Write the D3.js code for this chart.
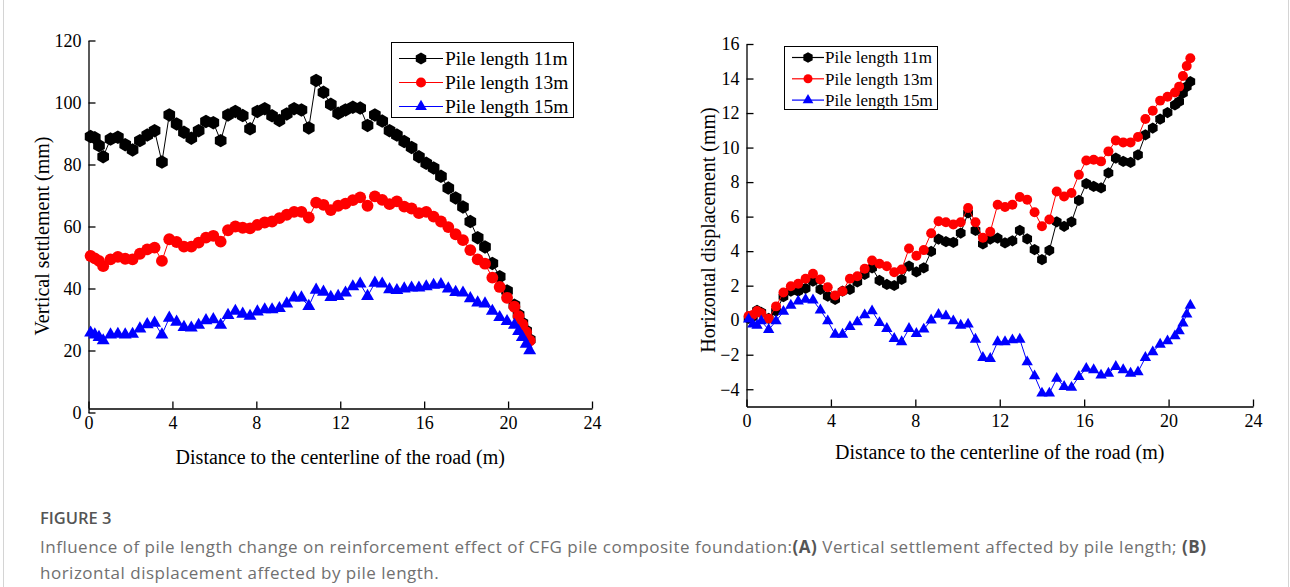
<!DOCTYPE html>
<html>
<head>
<meta charset="utf-8">
<script src="https://cdn.jsdelivr.net/npm/d3@7"></script>
<style>
  html, body { margin: 0; padding: 0; background: #fff; }
  svg { display: block; }
</style>
</head>
<body>
<div id="chart"></div>
<script>
// distance to the road centerline (m), shared by every series
const distance = [0.1, 0.3, 0.5, 0.7, 1.05, 1.4, 1.75, 2.1, 2.45, 2.8, 3.15, 3.5, 3.85, 4.2, 4.55, 4.9,
  5.25, 5.6, 5.95, 6.3, 6.65, 7.0, 7.35, 7.7, 8.05, 8.4, 8.75, 9.1, 9.45, 9.8, 10.15, 10.5, 10.85,
  11.2, 11.55, 11.9, 12.25, 12.6, 12.95, 13.3, 13.65, 14.0, 14.35, 14.7, 15.05, 15.4, 15.75, 16.1,
  16.45, 16.8, 17.15, 17.5, 17.85, 18.2, 18.55, 18.9, 19.25, 19.6, 19.95, 20.3, 20.5, 20.68, 20.86, 21.03];

// (A) vertical settlement (mm)
const settle11 = [89.0, 88.6, 86.1, 82.5, 88.2, 88.8, 86.4, 84.7, 87.7, 89.5, 90.9, 80.8, 96.0, 93.1, 90.4, 88.5,
  90.9, 93.9, 93.5, 87.7, 96.0, 97.1, 95.8, 91.5, 97.1, 98.0, 95.7, 94.2, 96.3, 98.0, 97.6, 91.8, 107.1,
  103.3, 99.4, 96.5, 97.6, 98.5, 98.2, 92.6, 96.0, 94.0, 90.9, 89.5, 87.4, 85.5, 82.5, 80.4, 78.9, 76.2,
  72.4, 69.2, 66.3, 61.6, 56.4, 53.4, 48.1, 43.8, 39.2, 34.6, 31.5, 28.8, 26.3, 23.5];
const settle13 = [50.5, 49.7, 48.9, 47.2, 49.4, 50.2, 49.6, 49.4, 51.2, 52.6, 53.2, 48.9, 55.9, 55.0, 53.5, 53.5,
  54.8, 56.4, 57.0, 55.1, 58.8, 60.0, 59.6, 59.4, 60.5, 61.3, 61.6, 62.7, 63.8, 64.7, 64.7, 62.9, 67.7,
  67.0, 65.3, 66.7, 67.4, 68.5, 69.4, 66.7, 69.7, 68.6, 67.2, 68.1, 66.4, 65.8, 64.3, 64.7, 63.2, 61.6,
  59.8, 57.5, 55.6, 52.4, 49.4, 48.0, 43.5, 40.5, 37.0, 34.1, 31.1, 28.4, 25.9, 23.2];
const settle15 = [25.7, 25.1, 24.3, 23.2, 25.1, 25.3, 25.1, 25.3, 27.0, 28.4, 28.9, 25.1, 30.5, 29.2, 27.5, 27.3,
  28.2, 29.7, 30.0, 28.2, 31.4, 32.7, 31.8, 31.1, 32.5, 33.2, 33.2, 33.6, 35.1, 37.0, 37.0, 34.3, 39.5,
  38.9, 37.2, 37.5, 38.6, 40.6, 41.5, 37.5, 41.8, 41.5, 39.7, 39.4, 39.9, 40.2, 40.2, 40.6, 41.1, 41.3,
  39.9, 38.8, 38.6, 36.8, 35.4, 35.1, 32.7, 30.7, 29.4, 28.2, 26.2, 24.3, 22.1, 20.0];

// (B) horizontal displacement (mm)
const disp11 = [0.1, 0.2, 0.57, 0.45, 0.1, 0.53, 1.36, 1.68, 1.68, 1.84, 2.26, 1.78, 1.39, 1.2, 1.68, 1.78,
  2.22, 2.65, 3.03, 2.3, 2.07, 2.01, 2.36, 3.13, 2.8, 3.03, 3.98, 4.7, 4.55, 4.51, 5.05, 6.21, 5.2,
  4.42, 4.7, 4.75, 4.48, 4.6, 5.2, 4.71, 4.09, 3.51, 4.05, 5.7, 5.44, 5.7, 6.94, 7.91, 7.75, 7.66,
  8.53, 9.39, 9.2, 9.14, 9.58, 10.74, 11.13, 11.65, 12.03, 12.47, 12.66, 13.15, 13.53, 13.82];
const disp13 = [0.24, 0.3, 0.53, 0.4, 0.09, 0.8, 1.6, 1.97, 2.11, 2.4, 2.69, 2.36, 1.91, 1.43, 1.68, 2.4,
  2.55, 2.98, 3.46, 3.27, 3.13, 2.78, 2.94, 4.15, 3.73, 4.06, 5.04, 5.73, 5.67, 5.54, 5.67, 6.5, 5.67,
  4.77, 5.12, 6.69, 6.56, 6.69, 7.14, 6.98, 6.25, 5.44, 5.83, 7.46, 7.17, 7.37, 8.43, 9.25, 9.29, 9.2,
  9.78, 10.41, 10.3, 10.3, 10.61, 11.65, 12.13, 12.72, 12.95, 13.19, 13.53, 14.15, 14.73, 15.17];
const disp15 = [0.05, -0.24, -0.3, -0.05, -0.55, -0.05, 0.5, 0.86, 1.1, 1.2, 1.16, 0.58, -0.05, -0.82, -0.82, -0.38,
  -0.11, 0.3, 0.53, -0.15, -0.49, -1.07, -1.26, -0.49, -0.78, -0.53, 0.0, 0.33, 0.24, -0.05, -0.3, -0.24, -1.11,
  -2.17, -2.23, -1.26, -1.26, -1.15, -1.11, -2.42, -3.23, -4.23, -4.23, -3.38, -3.85, -3.9, -3.27, -2.8, -2.88, -3.19,
  -3.08, -2.69, -2.88, -3.08, -3.0, -2.17, -1.84, -1.4, -1.21, -0.92, -0.63, -0.18, 0.34, 0.86];

const seriesNames = ['Pile length 11m', 'Pile length 13m', 'Pile length 15m'];
const seriesColors = ['#000000', '#ff0000', '#0000ff'];
const xTicks = [0, 4, 8, 12, 16, 20, 24];
const settleTicks = [0, 20, 40, 60, 80, 100, 120];
const dispTicks = [-4, -2, 0, 2, 4, 6, 8, 10, 12, 14, 16];

const serif = '"Liberation Serif", "Times New Roman", serif';

// pointy-top hexagon as a d3 symbol type
const symbolHexagon = {
  draw(context, size) {
    const r = Math.sqrt(2 * size / (3 * Math.sqrt(3)));
    for (let i = 0; i < 6; i++) {
      const a = Math.PI / 3 * i - Math.PI / 2;
      const px = r * Math.cos(a), py = r * Math.sin(a);
      if (i === 0) context.moveTo(px, py); else context.lineTo(px, py);
    }
    context.closePath();
  }
};
const markerTypes = [symbolHexagon, d3.symbolCircle, d3.symbolTriangle];

const svg = d3.select('#chart').append('svg')
  .attr('width', 1290)
  .attr('height', 587);

svg.append('rect').attr('width', 1290).attr('height', 587).attr('fill', '#fff');

// frame of the figure box
svg.append('line').attr('x1', 3.5).attr('x2', 3.5).attr('y1', 0).attr('y2', 587)
  .attr('stroke', '#d4d4d4');
svg.append('line').attr('x1', 1288.5).attr('x2', 1288.5).attr('y1', 0).attr('y2', 587)
  .attr('stroke', '#d4d4d4');

const panels = [
  {
    series: [settle11, settle13, settle15],
    yDomain: [0, 120], yTicks: settleTicks,
    left: 88.5, right: 592, top: 40.5, bottom: 412.5, xShift: -4,
    yTitle: 'Vertical settlement (mm)', yTitleX: 42, yTitleY: 236,
    xTitleY: 464,
    markerSize: [118, 110, 72],
    legend: { x: 391.5, y: 42.5, w: 182, h: 75, row0: 16, step: 24, font: 19.5,
      line0: 399, line1: 443, textX: 445, marker: [95, 80, 60] }
  },
  {
    series: [disp11, disp13, disp15],
    yDomain: [-5, 16], yTicks: dispTicks,
    left: 746.5, right: 1253, top: 44, bottom: 406.5, xShift: 0,
    yTitle: 'Horizontal displacement (mm)', yTitleX: 708, yTitleY: 230,
    xTitleY: 459,
    markerSize: [82, 78, 56],
    legend: { x: 784.5, y: 46.5, w: 153, h: 63, row0: 11, step: 21.3, font: 17,
      line0: 792, line1: 824, textX: 825, marker: [75, 64, 50] }
  }
];

function styleAxis(sel) {
  sel.attr('font-family', serif).attr('font-size', 18);
  sel.selectAll('path.domain').attr('stroke', '#000').attr('stroke-width', 1.3);
  sel.selectAll('.tick line').attr('stroke', '#000').attr('stroke-width', 1.3);
  sel.selectAll('.tick text').attr('fill', '#000');
}

function drawPanel(p) {
  const x = d3.scaleLinear().domain([0, 24]).range([p.left, p.right]);
  const y = d3.scaleLinear().domain(p.yDomain).range([p.bottom, p.top]);
  const g = svg.append('g');

  g.append('g')
    .attr('transform', `translate(${p.left},0)`)
    .call(d3.axisLeft(y).tickValues(p.yTicks).tickSize(-7).tickSizeOuter(0).tickPadding(7))
    .call(styleAxis);

  g.append('g')
    .attr('transform', `translate(0,${p.bottom + p.xShift})`)
    .call(d3.axisBottom(x).tickValues(xTicks).tickSize(-7).tickSizeOuter(0).tickPadding(8))
    .call(styleAxis);

  // series: line then markers
  p.series.forEach((vals, i) => {
    const pts = distance.map((d, j) => [d, vals[j]]);
    g.append('path')
      .datum(pts)
      .attr('fill', 'none')
      .attr('stroke', seriesColors[i])
      .attr('stroke-width', 1)
      .attr('d', d3.line().x(d => x(d[0])).y(d => y(d[1])));
    g.append('g')
      .selectAll('path')
      .data(pts)
      .join('path')
      .attr('transform', d => `translate(${x(d[0])},${y(d[1])})`)
      .attr('fill', seriesColors[i])
      .attr('d', d3.symbol(markerTypes[i], p.markerSize[i]));
  });

  // axis titles
  g.append('text')
    .attr('x', (p.left + p.right) / 2)
    .attr('y', p.xTitleY)
    .attr('text-anchor', 'middle')
    .attr('font-family', serif)
    .attr('font-size', 20)
    .text('Distance to the centerline of the road (m)');

  g.append('text')
    .attr('transform', `translate(${p.yTitleX},${p.yTitleY}) rotate(-90)`)
    .attr('text-anchor', 'middle')
    .attr('dominant-baseline', 'central')
    .attr('font-family', serif)
    .attr('font-size', 20)
    .text(p.yTitle);

  // legend
  const L = p.legend;
  const lg = g.append('g');
  lg.append('rect')
    .attr('x', L.x).attr('y', L.y).attr('width', L.w).attr('height', L.h)
    .attr('fill', '#fff').attr('stroke', '#000').attr('stroke-width', 1);
  seriesNames.forEach((name, i) => {
    const cy = L.y + L.row0 + i * L.step;
    lg.append('line')
      .attr('x1', L.line0).attr('x2', L.line1).attr('y1', cy).attr('y2', cy)
      .attr('stroke', seriesColors[i]).attr('stroke-width', 1.2);
    lg.append('path')
      .attr('transform', `translate(${(L.line0 + L.line1) / 2},${cy})`)
      .attr('fill', seriesColors[i])
      .attr('d', d3.symbol(markerTypes[i], L.marker[i]));
    lg.append('text')
      .attr('x', L.textX).attr('y', cy)
      .attr('dy', '0.35em')
      .attr('font-family', serif)
      .attr('font-size', L.font)
      .text(name);
  });
}

panels.forEach(drawPanel);

// caption
const sans = '"Open Sans", "Noto Sans", sans-serif';
svg.append('text')
  .attr('x', 40).attr('y', 524)
  .attr('font-family', sans).attr('font-size', 16.5).attr('font-weight', 600)
  .attr('fill', '#555')
  .text('FIGURE 3');

const cap1 = svg.append('text')
  .attr('x', 40).attr('y', 553)
  .attr('font-family', sans).attr('font-size', 17)
  .attr('letter-spacing', 0.5)
  .attr('fill', '#707070');
cap1.append('tspan').text('Influence of pile length change on reinforcement effect of CFG pile composite foundation:');
cap1.append('tspan').attr('font-weight', 700).attr('fill', '#555').text('(A)');
cap1.append('tspan').text(' Vertical settlement affected by pile length; ');
cap1.append('tspan').attr('font-weight', 700).attr('fill', '#555').text('(B)');

svg.append('text')
  .attr('x', 40).attr('y', 579)
  .attr('font-family', sans).attr('font-size', 17)
  .attr('letter-spacing', 0.5)
  .attr('fill', '#707070')
  .text('horizontal displacement affected by pile length.');
</script>
</body>
</html>
